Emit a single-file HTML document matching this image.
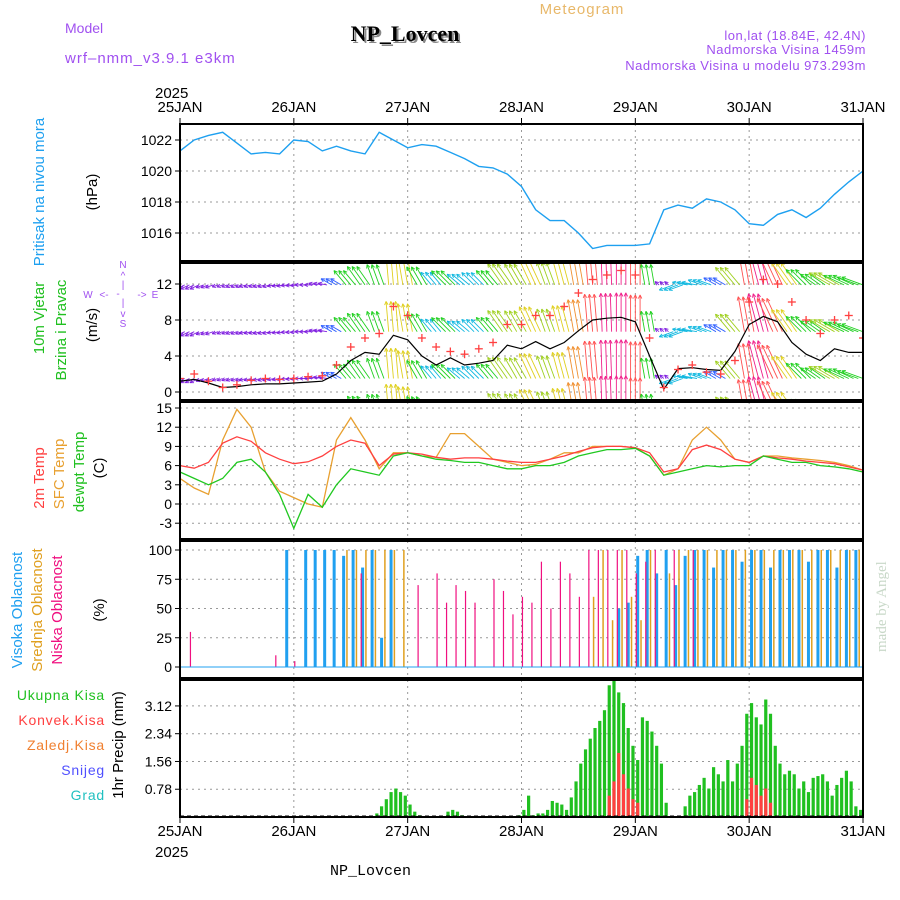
<!DOCTYPE html>
<html><head><meta charset="utf-8"><style>
body{margin:0;background:#fff;}
svg{display:block;font-family:"Liberation Sans",sans-serif;}
</style></head><body>
<svg id="c" width="900" height="900" viewBox="0 0 900 900" xmlns="http://www.w3.org/2000/svg">
<defs>
<clipPath id="cw"><rect x="180" y="263" width="683" height="137"/></clipPath>
<clipPath id="cp"><rect x="180" y="124" width="683" height="137"/></clipPath>
</defs>
<text x="65" y="33" font-size="14" fill="#a050f0">Model</text>
<text x="65" y="63" font-size="15" fill="#a050f0" letter-spacing="1">wrf–nmm_v3.9.1 e3km</text>
<text x="407" y="43" font-size="22" font-weight="bold" font-family="Liberation Serif,serif" text-anchor="middle" fill="#888">NP_Lovcen</text>
<text x="405" y="41" font-size="22" font-weight="bold" font-family="Liberation Serif,serif" text-anchor="middle" fill="#000">NP_Lovcen</text>
<text x="582" y="14" font-size="15" text-anchor="middle" fill="#e8b86a" letter-spacing="1">Meteogram</text>
<text x="866" y="40" font-size="13" text-anchor="end" fill="#a050f0" letter-spacing="0.5">lon,lat (18.84E, 42.4N)</text>
<text x="866" y="54" font-size="13" text-anchor="end" fill="#a050f0" letter-spacing="0.5">Nadmorska Visina 1459m</text>
<text x="866" y="70" font-size="13" text-anchor="end" fill="#a050f0" letter-spacing="0.5">Nadmorska Visina u modelu 973.293m</text>
<text x="155" y="98" font-size="15">2025</text>
<text x="155" y="857" font-size="15">2025</text>
<text x="330" y="875" font-size="15" font-family="Liberation Mono,monospace">NP_Lovcen</text>
<text transform="translate(886,652) rotate(-90)" font-size="15" font-family="Liberation Serif,serif" fill="#c8d8c8">made by Angel</text>
<g id="g"></g>
</svg>
<script>
const days=['25JAN','26JAN','27JAN','28JAN','29JAN','30JAN','31JAN'];
const pressure=[1021.3,1022,1022.3,1022.5,1021.8,1021.1,1021.2,1021.1,
1022,1021.9,1021.3,1021.6,1021.3,1021.1,1022.5,1022,
1021.5,1021.7,1021.6,1021.2,1020.8,1020.3,1020.2,1019.8,
1019,1017.5,1016.8,1016.8,1016,1015,1015.2,1015.2,
1015.2,1015.3,1017.5,1017.8,1017.6,1018.2,1018,1017.5,
1016.6,1016.5,1017.2,1017.5,1017,1017.6,1018.5,1019.3,1020];
const windSpeed=[1.2,1.4,1.0,0.5,0.6,0.8,0.9,0.9, 1.0,1.1,1.2,2.0,3.5,4.4,4.2,6.3, 5.8,4.0,3.0,3.8,3.0,3.2,3.5,5.2, 4.8,5.6,4.8,5.5,6.8,8.0,8.2,8.3, 7.8,4.0,0.3,2.6,2.7,2.5,2.4,4.5, 7.5,8.4,7.8,5.5,4.2,3.5,4.8,4.4,4.4];
const windGust=[1.5,2,1.2,0.5,0.8,1.3,1.5,1.4, 1.5,1.7,1.8,3,5,6,6.5,9.5, 8.5,6,5,4.5,4.2,4.8,5.5,7.5, 7.5,8.5,8.5,9.5,11,12.5,13,13.5, 13,6,0.5,2.5,3,2.2,2,3.5, 10,12.5,12,10,8,6.5,8,8.5,6];
const windDir=[205,205,200,200,200,195,195,190, 185,180,170,150,130,125,110,95, 100,120,130,135,140,135,130,125, 120,115,110,105,100,95,92,90, 90,100,140,200,170,160,150,130, 100,105,115,125,135,145,150,155,160];
const temp2m=[6,5.6,6.5,9.5,10.5,9.8,8,7, 6.3,6.6,7.5,9,10,9.5,6,7.8, 8,7.8,7.3,7,7.2,7.2,7,6.7, 6.5,6.5,7,7.5,8.2,8.8,9,9, 8.8,8,5,5.5,8.5,9.2,8.5,7, 6.5,7.5,7.2,7,6.7,6.5,6.3,5.8,5.3];
const tempSfc=[4,2.5,1.5,10,14.8,12,5,2, 1,0,-0.5,10,13.5,10,5.5,8, 8,7.5,7.3,11,11,9,7,6.5, 6,6.2,7,8,8,9,9,9, 8.8,7.5,4.5,5.5,10,12,10,7, 6.5,7.5,7.5,7.2,7,6.8,6.5,6,5.3];
const dewpt=[5,4,3,4,6.5,7,5,1.5, -3.8,1.5,-0.5,3,5.5,5,4.5,7.5, 8,7.5,7,6.8,6.5,6.5,6,5.5, 5.5,6,6,6.5,7.5,8,8.5,8.5, 8.7,7.5,4.5,5,5.5,6,5.8,6, 6,7.5,7,6.5,6.5,6,5.8,5.5,5];
const cloudHigh=[0,0,0,0,0,0,0,0,0,0,0,100,0,100,100,100,100,95,100,85,100,25,100,0,0,0,0,0,0,0,0,0,0,0,0,0,0,0,0,0,0,0,0,0,0,0,50,55,95,100,80,100,70,95,100,100,85,100,100,90,100,100,85,100,100,100,90,100,100,85,100,100];
const cloudMid=[0,0,0,0,0,0,0,0,0,0,0,0,0,0,0,0,0,100,100,100,100,100,100,100,0,0,0,0,0,0,0,0,0,0,0,0,0,0,0,0,0,0,0,60,100,40,100,60,40,100,0,80,100,100,100,100,100,100,100,100,100,100,100,100,100,100,100,100,100,100,100,100];
const cloudLow=[0,30,0,0,0,0,0,0,0,0,10,0,5,0,0,0,0,0,0,80,0,0,0,0,0,70,0,80,55,70,65,55,0,75,65,45,60,55,90,50,90,80,60,100,100,100,100,100,80,90,100,0,100,0,100,0,0,0,0,0,0,0,0,0,0,0,0,0,0,0,0,0];
const precipTotal=[0,0,0,0,0,0,0,0,0,0,0,0,0,0,0,0,0,0,0,0,0,0,0,0,0,0,0,0,0,0,0,0,0,0,0,0,0,0,0,0,0,
0.1,0.3,0.5,0.7,0.8,0.7,0.6,0.35,0.15,0.05,
0,0,0,0,0,
0.15,0.2,0.15,0.05,
0,0,0,0,0,0,0,0,0,0,0,
0.05,0.2,0.6,0.05,0.1,0.1,
0.2,0.45,0.4,0.35,0.2,0.55,1.0,1.5,1.9,2.2,2.5,2.7,3.0,3.7,3.9,3.5,3.2,2.5,2.0,1.6,2.8,2.7,2.4,2.0,1.5,0.4,
0,0,0,
0.3,0.6,0.7,0.9,1.1,0.8,1.4,1.2,1.0,1.6,1.0,1.5,2.0,2.9,3.2,2.8,2.6,3.3,2.9,2.0,1.5,1.2,1.3,1.2,0.8,1.0,0.7,1.1,1.15,1.2,1.0,0.6,0.9,1.1,1.3,1.0,0.3,0.2,0.1];
const convHours=[90,91,92,93,94,95,96,119,120,121,122,123,124];
const convVals=[0.6,1.0,1.8,1.2,0.8,0.5,0.4,0.5,1.1,0.9,0.6,0.8,0.4];
const precipConv=[];
const pTicks=[1016,1018,1020,1022], wTicks=[0,4,8,12], tTicks=[-3,0,3,6,9,12,15], cTicks=[0,25,50,75,100], rTicks=[0.78,1.56,2.34,3.12];

const NS='http://www.w3.org/2000/svg', G=document.getElementById('g');
function el(t,a,p){const e=document.createElementNS(NS,t);for(const k in a)e.setAttribute(k,a[k]);(p||G).appendChild(e);return e;}
const X0=180,X1=863;
const xh=h=>X0+h*(X1-X0)/144;
const panels=[{t:124,b:261},{t:263,b:400},{t:402,b:539},{t:541,b:678},{t:680,b:817}];
const yP=v=>233-(v-1016)*15.5;
const yW=v=>392-v*9;
const yT=v=>504-v*6.4;
const yC=v=>667-v*1.17;
const yR=v=>817-v*35.6;
function grid(p,ticks,yf,fmt,name){
  for(let d=1;d<6;d++){const l=el('line',{x1:xh(d*24),x2:xh(d*24),y1:p.t,y2:p.b,stroke:'#999','stroke-dasharray':'2,4'});
  }
  ticks.forEach(v=>{const y=yf(v);
    const l=el('line',{x1:X0,x2:X1,y1:y,y2:y,stroke:'#999','stroke-dasharray':'2,4'});
    
    el('line',{x1:X0-5,x2:X0,y1:y,y2:y,stroke:'#000'});
    const t=el('text',{x:X0-8,y:y+5,'font-size':14,'text-anchor':'end'});t.textContent=fmt(v);
    });
}
grid(panels[0],pTicks,yP,v=>v,'pressure');
grid(panels[1],wTicks,yW,v=>v,'wind');
grid(panels[2],tTicks,yT,v=>v,'temp');
grid(panels[3],cTicks,yC,v=>v,'cloud');
grid(panels[4],rTicks,yR,v=>v.toFixed(2),'precip');
function line(arr,yf,col,name,w,clip){const n=arr.length-1;const pts=arr.map((v,i)=>xh(i*144/n).toFixed(1)+','+yf(v).toFixed(1)).join(' ');
  const a={points:pts,fill:'none',stroke:col,'stroke-width':w||1.3};if(clip)a['clip-path']=clip;
  const p=el('polyline',a);return p;}
line(pressure,yP,'#1ea0f0','pressure-line',1.4,'url(#cp)');
function wcol(s){return s<1.5?'#8020e0':s<2.5?'#3060ff':s<3.3?'#10b8e0':s<4.5?'#20d020':s<5.5?'#a0d020':s<6.5?'#e0d020':s<7.5?'#f09030':s<8.1?'#ff5050':'#f0208a';}
const rows=[-2.5,1.5,6.7,11.9];
for(let h=0;h<=144;h++){const i=Math.min(48,Math.round(h/3));const s=windSpeed[i];const a=windDir[i]*Math.PI/180;
  rows.forEach((r,ri)=>{const L=4+s*4.2;const x=xh(h),y=yW(r);
   const x2=x+L*Math.cos(a),y2=y-L*Math.sin(a);const c=wcol(s);
   const g=el('g',{stroke:c,'stroke-width':0.9,'clip-path':'url(#cw)'});
   
   el('line',{x1:x,y1:y,x2:x2,y2:y2},g);
   const ha=a+Math.PI;[0.45,-0.45].forEach(d=>el('line',{x1:x2,y1:y2,x2:x2+4*Math.cos(ha+d),y2:y2-4*Math.sin(ha+d)},g));});}
line(windSpeed,yW,'#000','wind-speed-line',1.2,'url(#cw)');
windGust.forEach((v,i)=>{const x=xh(i*3),y=yW(v);const g=el('g',{stroke:'#ff4040','stroke-width':1.3,'clip-path':'url(#cw)'});
 
 el('line',{x1:x-4,x2:x+4,y1:y,y2:y},g);el('line',{x1:x,x2:x,y1:y-4,y2:y+4},g);});
line(tempSfc,yT,'#e8a030','sfc-temp-line');
line(temp2m,yT,'#ff4040','temp-2m-line');
line(dewpt,yT,'#20c820','dewpoint-line');
function cbars(arr,col,w,name,off){arr.forEach((v,i)=>{if(!v)return;const x=xh(i*2+off);
 const r=el('rect',{x:x-w/2,y:yC(v),width:w,height:yC(0)-yC(v),fill:col});});}
cbars(cloudHigh,'#20a0f0',3,'cloud-high-bar',0.5);
cbars(cloudMid,'#e0a020',1.5,'cloud-mid-bar',1.2);
cbars(cloudLow,'#f01080',1.2,'cloud-low-bar',0.2);
const cb=el('line',{x1:X0,x2:X1,y1:yC(0),y2:yC(0),stroke:'#20a0f0','stroke-width':1});
for(let h=0;h<144;h++)precipConv.push(0);
convHours.forEach((h,k)=>precipConv[h]=convVals[k]);
precipTotal.slice(0,144).forEach((v,h)=>{if(!v)return;const x=xh(h+0.5);const r=el('rect',{x:x-1.6,y:yR(v),width:3.2,height:yR(0)-yR(v),fill:'#20c020'});
 });
precipConv.forEach((v,h)=>{if(!v)return;const x=xh(h+0.5);const r=el('rect',{x:x-1.6,y:yR(v),width:3.2,height:yR(0)-yR(v),fill:'#ff4040'});
 });
const pb=el('line',{x1:X0,x2:X1,y1:816,y2:816,stroke:'#000','stroke-dasharray':'4,3'});
panels.forEach((p,i)=>{const r=el('rect',{x:X0,y:p.t,width:X1-X0,height:p.b-p.t,fill:'none',stroke:'#000','stroke-width':2});
 });
days.forEach((d,i)=>{[112,836].forEach((y,j)=>{const t=el('text',{x:xh(i*24),y:y,'font-size':15,'text-anchor':'middle'});t.textContent=d;
 
 el('line',{x1:xh(i*24),x2:xh(i*24),y1:j?817:118,y2:j?823:124,stroke:'#000'});});});
function rl(x,y,txt,col,name,fs){const t=el('text',{transform:`translate(${x},${y}) rotate(-90)`,'font-size':fs||15,fill:col,'text-anchor':'middle'});t.textContent=txt;
 }
rl(44,192,'Pritisak na nivou mora','#1ea0f0','pressure-title');
rl(97,192,'(hPa)','#000','pressure-unit');
rl(44,318,'10m Vjetar','#20c020','wind-title-1');
rl(66,330,'Brzina i Pravac','#20c020','wind-title-2');
rl(97,325,'(m/s)','#000','wind-unit');
rl(44,478,'2m Temp','#ff4040','temp-2m-title');
rl(64,474,'SFC Temp','#e8a030','temp-sfc-title');
rl(84,472,'dewpt Temp','#20c020','dewpt-title');
rl(104,468,'(C)','#000','temp-unit');
rl(22,610,'Visoka Oblacnost','#20a0f0','cloud-high-title');
rl(42,610,'Srednja Oblacnost','#e0a020','cloud-mid-title');
rl(62,610,'Niska Oblacnost','#f01080','cloud-low-title');
rl(104,610,'(%)','#000','cloud-unit');
rl(123,745,'1hr Precip (mm)','#000','precip-title');
[['Ukupna Kisa','#20c020',700],['Konvek.Kisa','#ff4040',725],['Zaledj.Kisa','#f08030',750],['Snijeg','#5050ff',775],['Grad','#20c0c0',800]].forEach(a=>{
 const t=el('text',{x:105,y:a[2],'font-size':14,fill:a[1],'text-anchor':'end','letter-spacing':'0.8'});t.textContent=a[0];
 });
const cg=el('g',{fill:'#a050f0','font-size':10,'text-anchor':'middle'});
[['N',123,268],['W',88,298],['E',155,298],['S',123,327]].forEach(a=>{const t=el('text',{x:a[1],y:a[2]},cg);t.textContent=a[0];});
[['^',123,279],['|',123,288],['<-',104,298],['-',118,297],['->',142,298],['|',123,306],['v',123,317]].forEach(a=>{const t=el('text',{x:a[1],y:a[2]},cg);t.textContent=a[0];});
</script>
</body></html>
